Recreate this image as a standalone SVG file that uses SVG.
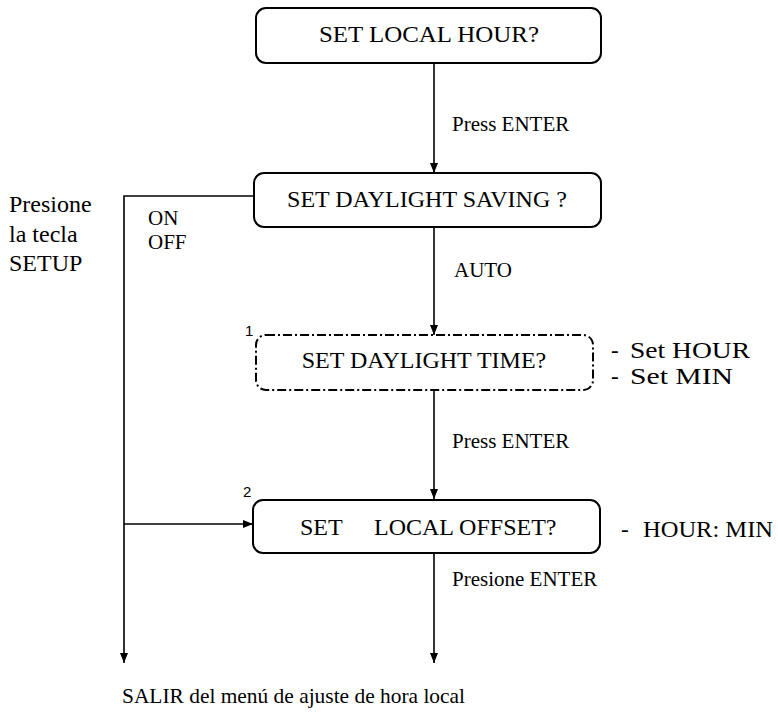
<svg xmlns="http://www.w3.org/2000/svg" width="778" height="713" viewBox="0 0 778 713">
<defs>
<marker id="arr" viewBox="0 0 10 10" refX="10" refY="5" markerWidth="10" markerHeight="10" markerUnits="userSpaceOnUse" orient="auto">
<path d="M0,1 L10,5 L0,9 Z" fill="#000"/>
</marker>
<style>
.box{fill:#fff;stroke:#000;stroke-width:2}
.dash{stroke-dasharray:9 3 2 3}
.t{font-family:"Liberation Serif","Times New Roman",serif;font-size:24px;fill:#000}
.s{font-family:"Liberation Serif","Times New Roman",serif;font-size:21px;fill:#000}
.r{font-family:"Liberation Serif","Times New Roman",serif;font-size:23px;fill:#000}
.n{font-family:"Liberation Sans",Arial,sans-serif;font-size:15px;fill:#000}
.c{fill:none;stroke:#000;stroke-width:1.6}
</style>
</defs>
<rect width="778" height="713" fill="#fff"/>
<g id="connectors">
<line class="c" x1="434" y1="63" x2="434" y2="173" marker-end="url(#arr)"/>
<line class="c" x1="434" y1="227" x2="434" y2="335" marker-end="url(#arr)"/>
<line class="c" x1="434" y1="390" x2="434" y2="499" marker-end="url(#arr)"/>
<line class="c" x1="434" y1="553" x2="434" y2="663" marker-end="url(#arr)"/>
<polyline class="c" points="254,196 124,196 124,663" marker-end="url(#arr)"/>
<line class="c" x1="124" y1="524" x2="253" y2="524" marker-end="url(#arr)"/>
</g>
<g id="n1">
<rect class="box" x="256" y="8" width="345" height="55" rx="10"/>
<text class="t" x="429" y="42" text-anchor="middle" textLength="220" lengthAdjust="spacingAndGlyphs">SET LOCAL HOUR?</text>
</g>
<g id="n2">
<rect class="box" x="254" y="173" width="347" height="54" rx="10"/>
<text class="t" x="427" y="207" text-anchor="middle">SET DAYLIGHT SAVING ?</text>
</g>
<g id="n3">
<rect class="box dash" x="256" y="335" width="337" height="55" rx="10"/>
<text class="t" x="424" y="368" text-anchor="middle">SET DAYLIGHT TIME?</text>
<text class="n" x="245" y="336">1</text>
</g>
<g id="n4">
<rect class="box" x="253" y="500" width="347" height="53" rx="10"/>
<text class="t" x="300" y="535">SET</text>
<text class="t" x="374" y="535">LOCAL OFFSET?</text>
<text class="n" x="243" y="497">2</text>
</g>
<g id="labels">
<text class="s" x="452" y="131">Press ENTER</text>
<text class="s" x="454" y="277">AUTO</text>
<text class="s" x="452" y="448">Press ENTER</text>
<text class="s" x="452" y="586">Presione ENTER</text>
<text class="t" x="9" y="212">Presione</text>
<text class="t" x="9" y="242">la tecla</text>
<text class="t" x="9" y="271">SETUP</text>
<text class="s" x="148" y="225">ON</text>
<text class="s" x="148" y="249">OFF</text>
<text class="r" x="611" y="358">-</text>
<text class="r" x="630" y="358" textLength="120" lengthAdjust="spacingAndGlyphs">Set HOUR</text>
<text class="r" x="611" y="384">-</text>
<text class="r" x="630" y="384" textLength="103" lengthAdjust="spacingAndGlyphs">Set MIN</text>
<text class="r" x="621" y="537">-</text>
<text class="r" x="643" y="537" textLength="130" lengthAdjust="spacingAndGlyphs">HOUR: MIN</text>
<text class="s" x="122" y="703" textLength="343" lengthAdjust="spacingAndGlyphs">SALIR del menú de ajuste de hora local</text>
</g>
</svg>
